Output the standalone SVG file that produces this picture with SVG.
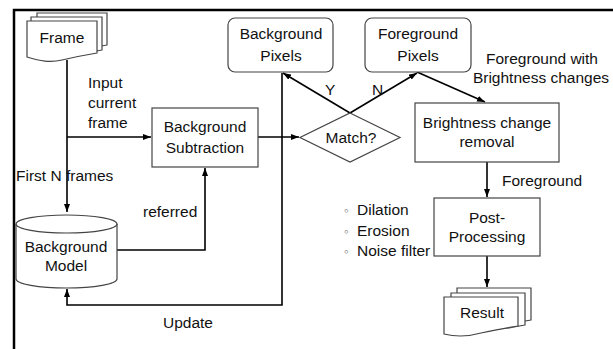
<svg xmlns="http://www.w3.org/2000/svg" width="613" height="349" viewBox="0 0 613 349">
  <style>
    text { font-family: "Liberation Sans", Arial, sans-serif; font-size: 15.5px; fill: #111; }
    .c { text-anchor: middle; }
    .shape { fill: #fff; stroke: #444; stroke-width: 1.2; }
    .wire { fill: none; stroke: #000; stroke-width: 1.6; }
    .frame { fill: none; stroke: #000; stroke-width: 2.5; }
    .bullet { font-family: "DejaVu Sans", sans-serif; font-size: 11px; fill: #222; }
  </style>
  <defs>
    <marker id="arrow" markerWidth="8" markerHeight="6" refX="8" refY="3" orient="auto" markerUnits="userSpaceOnUse">
      <path d="M0,0 L8,3 L0,6 Z" fill="#000"/>
    </marker>
  </defs>

  <rect width="613" height="349" fill="#fff"/>
  <!-- outer frame: top and left edges only -->
  <path class="frame" d="M14,349 V10 H613"/>

  <!-- connectors -->
  <g id="connectors">
    <path class="wire" d="M67,60 V212" marker-end="url(#arrow)"/>
    <path class="wire" d="M67,137 H151" marker-end="url(#arrow)"/>
    <path class="wire" d="M117,250 H205 V168" marker-end="url(#arrow)"/>
    <path class="wire" d="M258,137 H299" marker-end="url(#arrow)"/>
    <path class="wire" d="M282,73 V305 H67 V289" marker-end="url(#arrow)"/>
    <path class="wire" d="M350,113 L283,73" marker-end="url(#arrow)"/>
    <path class="wire" d="M350,113 L417,73" marker-end="url(#arrow)"/>
    <path class="wire" d="M417,72 L485,102" marker-end="url(#arrow)"/>
    <path class="wire" d="M487,162 V197" marker-end="url(#arrow)"/>
    <path class="wire" d="M487,256 V287" marker-end="url(#arrow)"/>
  </g>

  <!-- Frame (stacked documents) -->
  <g id="frame">
    <path class="shape" d="M37,13 H107 V45 C100,46 96,47 91,48 L37,48 Z"/>
    <path class="shape" d="M31,17 H102 V50 C95,51 91,52 86,53 L31,53 Z"/>
    <path class="shape" d="M27,21 H97 V53 C85,55 75,57 62,60 C50,63 40,61 27,57 Z"/>
    <text class="c" x="62" y="43">Frame</text>
  </g>

  <!-- edge labels -->
  <g id="labels">
    <text x="88" y="88">Input</text>
    <text x="88" y="108">current</text>
    <text x="88" y="128">frame</text>
    <text x="16" y="181">First N frames</text>
    <text x="143" y="217">referred</text>
    <text x="163" y="328">Update</text>
    <text x="325" y="95">Y</text>
    <text x="372" y="95">N</text>
    <text class="c" x="542" y="64">Foreground with</text>
    <text class="c" x="541" y="83">Brightness changes</text>
    <text x="502" y="186">Foreground</text>
  </g>

  <!-- Background Subtraction -->
  <g id="bg-subtraction">
    <rect class="shape" x="152" y="108" width="106" height="59"/>
    <text class="c" x="205" y="132">Background</text>
    <text class="c" x="205" y="153">Subtraction</text>
  </g>

  <!-- Background Model (cylinder) -->
  <g id="bg-model">
    <path class="shape" d="M16,224 V279 A50.5,9 0 0 0 117,279 V224"/>
    <ellipse class="shape" cx="66.5" cy="224" rx="50.5" ry="9"/>
    <text class="c" x="66" y="252">Background</text>
    <text class="c" x="66" y="271">Model</text>
  </g>

  <!-- Background Pixels -->
  <g id="bg-pixels">
    <rect class="shape" x="228" y="18" width="105" height="54" rx="7"/>
    <text class="c" x="281" y="39">Background</text>
    <text class="c" x="281" y="61">Pixels</text>
  </g>

  <!-- Foreground Pixels -->
  <g id="fg-pixels">
    <rect class="shape" x="365" y="18" width="106" height="54" rx="7"/>
    <text class="c" x="418" y="39">Foreground</text>
    <text class="c" x="418" y="61">Pixels</text>
  </g>

  <!-- Match? decision -->
  <g id="match">
    <path class="shape" d="M350,113 L400,137.5 L350,162 L300,137.5 Z"/>
    <text class="c" x="351" y="143">Match?</text>
  </g>

  <!-- Brightness change removal -->
  <g id="brightness">
    <rect class="shape" x="415" y="103" width="144" height="59"/>
    <text class="c" x="487" y="128">Brightness change</text>
    <text class="c" x="487" y="147">removal</text>
  </g>

  <!-- Post-Processing -->
  <g id="post">
    <rect class="shape" x="434" y="198" width="106" height="58"/>
    <text class="c" x="487" y="223">Post-</text>
    <text class="c" x="487" y="242">Processing</text>
  </g>

  <!-- post-processing operations -->
  <g id="ops">
    <text x="343" y="215"><tspan class="bullet">◦</tspan><tspan x="357">Dilation</tspan></text>
    <text x="343" y="236"><tspan class="bullet">◦</tspan><tspan x="357">Erosion</tspan></text>
    <text x="343" y="256"><tspan class="bullet">◦</tspan><tspan x="357">Noise filter</tspan></text>
  </g>

  <!-- Result (stacked documents) -->
  <g id="result">
    <path class="shape" d="M457,288 H531 V320 C524,321 520,322 515,323 L457,323 Z"/>
    <path class="shape" d="M451,293 H525 V325 C518,326 514,327 509,328 L451,328 Z"/>
    <path class="shape" d="M444,297 H518 V326 C505,328 495,330 481,333 C467,337 456,337 444,334 Z"/>
    <text class="c" x="482" y="318">Result</text>
  </g>
</svg>
